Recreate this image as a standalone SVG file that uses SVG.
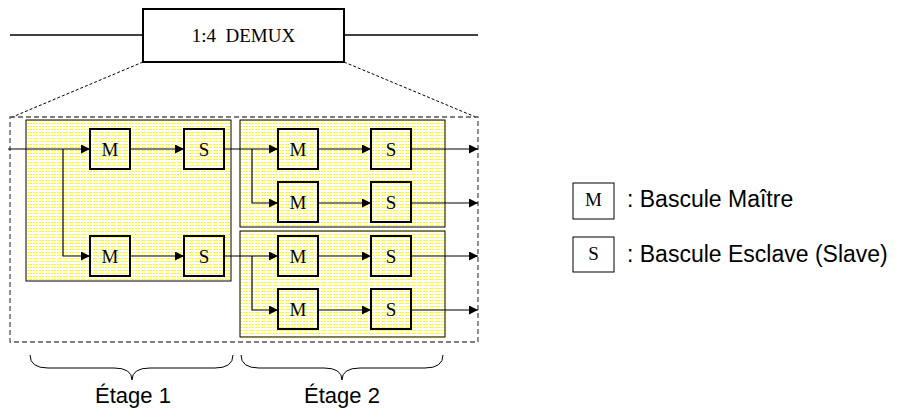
<svg xmlns="http://www.w3.org/2000/svg" width="898" height="412" viewBox="0 0 898 412">
<defs>
<pattern id="dots" width="3" height="3" patternUnits="userSpaceOnUse">
<rect width="3" height="3" fill="#ffffff"/>
<rect x="0" y="0" width="2" height="1" fill="#ffff00"/>
</pattern>
<marker id="arr" viewBox="0 0 10 10" refX="10" refY="5" markerWidth="9" markerHeight="9" markerUnits="userSpaceOnUse" orient="auto">
<path d="M0,0 L10,5 L0,10 z" fill="#000"/>
</marker>
<style>
.ff{fill:none;stroke:#000;stroke-width:2}
.stage{fill:url(#dots);stroke:#000;stroke-width:1}
.lbl{font-family:"Liberation Serif","Times New Roman",serif;font-size:19px;fill:#000;text-anchor:middle}
.sans{font-family:"Liberation Sans",Arial,sans-serif;fill:#000}
.wire{fill:none;stroke:#000;stroke-width:1.2}
.arrow{fill:none;stroke:#000;stroke-width:1.2;marker-end:url(#arr)}
</style>
</defs>
<rect width="898" height="412" fill="#fff"/>

<g id="demux">
<line x1="10" y1="35" x2="143" y2="35" stroke="#000" stroke-width="1.5"/>
<line x1="344" y1="35" x2="478" y2="35" stroke="#000" stroke-width="1.5"/>
<rect x="143" y="9" width="201" height="53" fill="#fff" stroke="#000" stroke-width="2"/>
<text class="lbl" x="243.5" y="42" font-size="18" xml:space="preserve">1:4  DEMUX</text>
</g>

<g id="zoom-outline">
<line x1="143" y1="62" x2="10" y2="118" stroke="#000" stroke-width="1" stroke-dasharray="3,2"/>
<line x1="344" y1="62" x2="478" y2="118" stroke="#000" stroke-width="1" stroke-dasharray="3,2"/>
<rect x="10" y="117" width="468" height="225" fill="none" stroke="#555" stroke-width="1.3" stroke-dasharray="5,3"/>
</g>

<g id="stage1"><rect class="stage" x="26" y="120" width="205" height="161"/></g>
<g id="stage2a"><rect class="stage" x="240" y="120" width="205" height="107"/></g>
<g id="stage2b"><rect class="stage" x="240" y="231" width="205" height="106"/></g>

<g id="connectors">
<line class="arrow" x1="8" y1="149" x2="90" y2="149"/>
<polyline class="arrow" points="63,149 63,256 90,256"/>
<line class="arrow" x1="130" y1="149" x2="184" y2="149"/>
<line class="arrow" x1="130" y1="256" x2="184" y2="256"/>
<line class="arrow" x1="224" y1="149" x2="278" y2="149"/>
<polyline class="arrow" points="252,149 252,203 278,203"/>
<line class="arrow" x1="224" y1="256" x2="278" y2="256"/>
<polyline class="arrow" points="252,256 252,310 278,310"/>
<line class="arrow" x1="318" y1="149" x2="371" y2="149"/>
<line class="arrow" x1="318" y1="203" x2="371" y2="203"/>
<line class="arrow" x1="318" y1="256" x2="371" y2="256"/>
<line class="arrow" x1="318" y1="310" x2="371" y2="310"/>
<line class="arrow" x1="411" y1="149" x2="478" y2="149"/>
<line class="arrow" x1="411" y1="203" x2="478" y2="203"/>
<line class="arrow" x1="411" y1="256" x2="478" y2="256"/>
<line class="arrow" x1="411" y1="310" x2="478" y2="310"/>
</g>

<g id="m1"><rect class="ff" x="90" y="129" width="40" height="40"/><text class="lbl" x="110" y="156">M</text></g>
<g id="s1"><rect class="ff" x="184" y="129" width="40" height="40"/><text class="lbl" x="204" y="156">S</text></g>
<g id="m2"><rect class="ff" x="90" y="236" width="40" height="40"/><text class="lbl" x="110" y="263">M</text></g>
<g id="s2"><rect class="ff" x="184" y="236" width="40" height="40"/><text class="lbl" x="204" y="263">S</text></g>
<g id="m3"><rect class="ff" x="278" y="129" width="40" height="40"/><text class="lbl" x="298" y="156">M</text></g>
<g id="s3"><rect class="ff" x="371" y="129" width="40" height="40"/><text class="lbl" x="391" y="156">S</text></g>
<g id="m4"><rect class="ff" x="278" y="182" width="40" height="40"/><text class="lbl" x="298" y="209">M</text></g>
<g id="s4"><rect class="ff" x="371" y="182" width="40" height="40"/><text class="lbl" x="391" y="209">S</text></g>
<g id="m5"><rect class="ff" x="278" y="236" width="40" height="40"/><text class="lbl" x="298" y="263">M</text></g>
<g id="s5"><rect class="ff" x="371" y="236" width="40" height="40"/><text class="lbl" x="391" y="263">S</text></g>
<g id="m6"><rect class="ff" x="278" y="289" width="40" height="40"/><text class="lbl" x="298" y="316">M</text></g>
<g id="s6"><rect class="ff" x="371" y="289" width="40" height="40"/><text class="lbl" x="391" y="316">S</text></g>

<g id="brace1">
<path d="M30,355 Q30,368 48,368 L114,368 Q132,368 132,380 Q132,368 150,368 L215,368 Q233,368 233,355" fill="none" stroke="#000" stroke-width="1"/>
<text class="sans" x="133" y="403" font-size="22" text-anchor="middle">Étage 1</text>
</g>
<g id="brace2">
<path d="M241,355 Q241,368 259,368 L324,368 Q342,368 342,380 Q342,368 360,368 L425,368 Q443,368 443,355" fill="none" stroke="#000" stroke-width="1"/>
<text class="sans" x="342" y="403" font-size="22" text-anchor="middle">Étage 2</text>
</g>

<g id="legend-m">
<rect x="573" y="183" width="41" height="36" fill="#fff" stroke="#000" stroke-width="1"/>
<text class="lbl" x="593.5" y="206" font-size="14">M</text>
<text class="sans" x="627" y="207" font-size="23">: Bascule Maître</text>
</g>
<g id="legend-s">
<rect x="573" y="237" width="41" height="35" fill="#fff" stroke="#000" stroke-width="1"/>
<text class="lbl" x="593.5" y="260" font-size="14">S</text>
<text class="sans" x="627" y="262" font-size="23">: Bascule Esclave (Slave)</text>
</g>
</svg>
